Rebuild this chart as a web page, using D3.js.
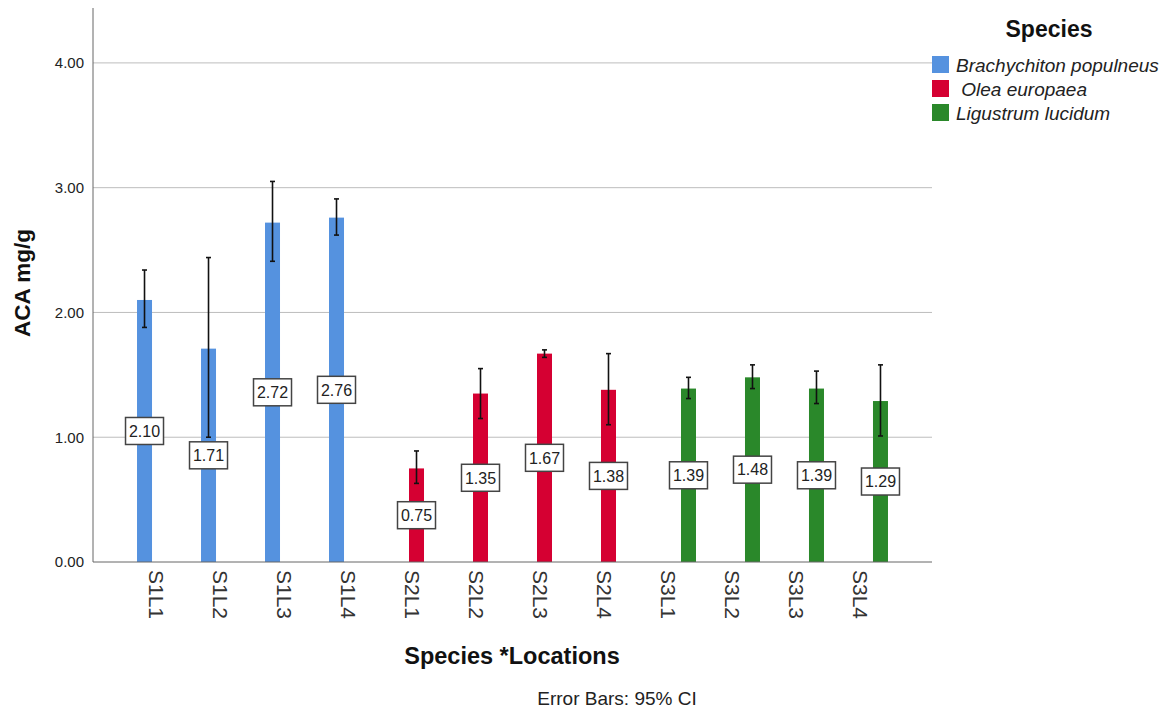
<!DOCTYPE html>
<html>
<head>
<meta charset="utf-8">
<script src="https://cdn.jsdelivr.net/npm/d3@7"></script>
<style>
  body { margin: 0; background: #fff; }
  svg { font-family: Arial, "Liberation Sans", sans-serif; }
</style>
</head>
<body>
<svg id="chart" width="1170" height="713"></svg>
<script>
// data
const categories = ["S1L1", "S1L2", "S1L3", "S1L4", "S2L1", "S2L2", "S2L3", "S2L4", "S3L1", "S3L2", "S3L3", "S3L4"];
const speciesOf = ["Brachychiton populneus", "Brachychiton populneus", "Brachychiton populneus", "Brachychiton populneus",
  " Olea europaea", " Olea europaea", " Olea europaea", " Olea europaea",
  "Ligustrum lucidum", "Ligustrum lucidum", "Ligustrum lucidum", "Ligustrum lucidum"];
const means = [2.10, 1.71, 2.72, 2.76, 0.75, 1.35, 1.67, 1.38, 1.39, 1.48, 1.39, 1.29];
const ciLow = [1.88, 1.00, 2.41, 2.62, 0.63, 1.15, 1.64, 1.10, 1.31, 1.39, 1.27, 1.01];
const ciHigh = [2.34, 2.44, 3.05, 2.91, 0.89, 1.55, 1.70, 1.67, 1.48, 1.58, 1.53, 1.58];
const species = ["Brachychiton populneus", " Olea europaea", "Ligustrum lucidum"];
const colors = ["#5592df", "#d50032", "#2a882a"];
const yTicks = [0, 1, 2, 3, 4];

const svg = d3.select("#chart");
const plotL = 93, plotR = 932, plotT = 8, plotB = 562;

const y = d3.scaleLinear().domain([0, 4.44]).range([plotB, plotT]);
const x = d3.scaleBand().domain(categories).range([plotL, plotR]).paddingInner(0).paddingOuter(0.555);
const xs = d3.scaleBand().domain(species).range([0, x.bandwidth()]).paddingInner(0).paddingOuter(0.5);
const color = d3.scaleOrdinal().domain(species).range(colors);

const data = categories.map((c, i) => ({
  cat: c, sp: speciesOf[i], mean: means[i], lo: ciLow[i], hi: ciHigh[i]
}));

// gridlines
svg.append("g")
  .selectAll("line")
  .data(yTicks.filter(d => d > 0))
  .join("line")
  .attr("x1", plotL).attr("x2", plotR)
  .attr("y1", d => y(d)).attr("y2", d => y(d))
  .attr("stroke", "#bdbdbd").attr("stroke-width", 1);

// y axis
const yAxis = svg.append("g")
  .attr("transform", `translate(${plotL},0)`)
  .call(d3.axisLeft(y).tickValues(yTicks).tickFormat(d3.format(".2f")).tickSize(0).tickPadding(9));
yAxis.select(".domain").attr("stroke", "#666").attr("d", `M0,${plotT}V${plotB}`);
yAxis.selectAll("text").attr("font-size", 15).attr("fill", "#222")
  .attr("font-family", "Arial, 'Liberation Sans', sans-serif");

// bars
const barW = xs.bandwidth() - 1;
const bx = d => x(d.cat) + xs(d.sp) + xs.bandwidth() / 2;
svg.append("g")
  .selectAll("rect")
  .data(data)
  .join("rect")
  .attr("x", d => bx(d) - barW / 2)
  .attr("width", barW)
  .attr("y", d => y(d.mean))
  .attr("height", d => y(0) - y(d.mean))
  .attr("fill", d => color(d.sp));

// x axis
const xAxis = svg.append("g")
  .attr("transform", `translate(0,${plotB})`)
  .call(d3.axisBottom(x).tickSize(0).tickPadding(0));
xAxis.select(".domain").attr("stroke", "#666").attr("d", `M${plotL},0H${plotR}`);
xAxis.selectAll("text")
  .attr("font-size", 21).attr("fill", "#333")
  .attr("font-family", "Arial, 'Liberation Sans', sans-serif")
  .attr("text-anchor", "start")
  .attr("dy", "0.35em")
  .attr("transform", "translate(-4,8) rotate(90)");

// error bars
const eg = svg.append("g").attr("stroke", "#111").attr("stroke-width", 1.6);
data.forEach(d => {
  const cx = bx(d);
  eg.append("line").attr("x1", cx).attr("x2", cx).attr("y1", y(d.lo)).attr("y2", y(d.hi));
  eg.append("line").attr("x1", cx - 2.5).attr("x2", cx + 2.5).attr("y1", y(d.lo)).attr("y2", y(d.lo));
  eg.append("line").attr("x1", cx - 2.5).attr("x2", cx + 2.5).attr("y1", y(d.hi)).attr("y2", y(d.hi));
});

// value labels at half bar height
const lg = svg.append("g");
data.forEach(d => {
  const cx = bx(d), cy = y(d.mean / 2);
  lg.append("rect")
    .attr("x", cx - 19).attr("y", cy - 13.5).attr("width", 38).attr("height", 27)
    .attr("fill", "#fff").attr("stroke", "#444").attr("stroke-width", 1.5);
  lg.append("text")
    .attr("x", cx).attr("y", cy).attr("dy", "0.36em")
    .attr("text-anchor", "middle").attr("font-size", 16).attr("fill", "#222")
    .text(d.mean.toFixed(2));
});

// axis titles
svg.append("text")
  .attr("transform", `translate(30,${(plotT + plotB) / 2 - 2}) rotate(-90)`)
  .attr("text-anchor", "middle").attr("font-size", 22.5).attr("font-weight", "bold").attr("fill", "#111")
  .text("ACA mg/g");
svg.append("text")
  .attr("x", 512).attr("y", 664)
  .attr("text-anchor", "middle").attr("font-size", 23.5).attr("font-weight", "bold").attr("fill", "#111")
  .text("Species *Locations");
svg.append("text")
  .attr("x", 617).attr("y", 705)
  .attr("text-anchor", "middle").attr("font-size", 19).attr("fill", "#222")
  .text("Error Bars: 95% CI");

// legend
svg.append("text")
  .attr("x", 1049).attr("y", 37)
  .attr("text-anchor", "middle").attr("font-size", 23).attr("font-weight", "bold").attr("fill", "#111")
  .text("Species");
const leg = svg.append("g").selectAll("g").data(species).join("g")
  .attr("transform", (d, i) => `translate(932,${56 + i * 24})`);
leg.append("rect").attr("width", 17).attr("height", 17).attr("fill", d => color(d));
leg.append("text")
  .attr("x", 24).attr("y", 9).attr("dy", "0.35em")
  .attr("font-size", 19).attr("font-style", "italic").attr("fill", "#222")
  .style("white-space", "pre")
  .text(d => d);
</script>
</body>
</html>
